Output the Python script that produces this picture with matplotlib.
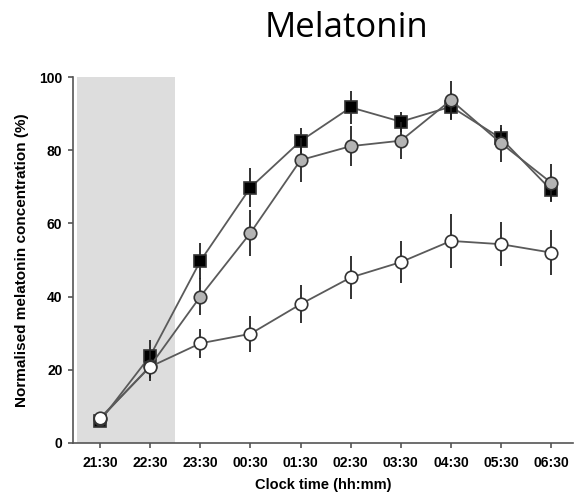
import matplotlib.pyplot as plt

# Clock times (hourly samples)
times = ['21:30', '22:30', '23:30', '00:30', '01:30',
         '02:30', '03:30', '04:30', '05:30', '06:30']

# Normalised melatonin concentration (%)
black_mean = [6.0, 23.8, 49.7, 69.8, 82.5, 91.7, 87.8, 91.9, 83.2, 69.1]
black_err = [1.0, 4.2, 5.0, 5.3, 3.5, 4.5, 2.7, 3.6, 3.0, 3.2]

grey_mean = [6.5, 21.0, 40.0, 57.4, 77.3, 81.1, 82.6, 93.7, 81.9, 71.1]
grey_err = [1.0, 4.0, 5.0, 6.3, 5.9, 5.5, 5.0, 5.3, 5.0, 5.1]

white_mean = [6.8, 20.8, 27.2, 29.8, 37.9, 45.2, 49.4, 55.2, 54.3, 52.0]
white_err = [1.0, 3.0, 3.9, 5.0, 5.2, 6.0, 5.7, 7.4, 6.0, 6.1]

# shaded span (in x index units)
shade_span = (-0.46, 1.5)

fig = plt.figure(figsize=(5.75, 4.97), dpi=100)
ax = fig.add_axes([0.127, 0.109, 0.87, 0.736])

x = list(range(len(times)))
ax.axvspan(shade_span[0], shade_span[1], ymin=0, ymax=1, color='#dddddd', lw=0, zorder=0)

series = [
    (black_mean, black_err, 's', 'black', 8.0),
    (grey_mean, grey_err, 'o', '#b4b4b4', 9.0),
    (white_mean, white_err, 'o', 'white', 9.0),
]
z = 2
for mean, err, marker, fc, ms in series:
    ax.errorbar(x, mean, yerr=err, fmt='none', ecolor='#222222', elinewidth=1.3,
                capsize=0, zorder=z)
    ax.plot(x, mean, '-', color='#5a5a5a', lw=1.3, zorder=z + 0.5)
    ax.plot(x, mean, linestyle='none', marker=marker, ms=ms, mfc=fc,
            mec='#333333', mew=1.2, zorder=z + 1)
    z += 2

ax.set_xlim(-0.54, 9.44)
ax.set_ylim(0, 100)
ax.set_xticks(x)
ax.set_xticklabels(times)
ax.set_yticks([0, 20, 40, 60, 80, 100])

for side in ['top', 'right']:
    ax.spines[side].set_visible(False)
for side in ['left', 'bottom']:
    ax.spines[side].set_color('#555555')
    ax.spines[side].set_linewidth(1.2)

ax.tick_params(direction='out', length=3.6, width=1.2, color='#555555')
ax.tick_params(axis='y', pad=4)
ax.tick_params(axis='x', pad=6)
for lab in ax.get_xticklabels() + ax.get_yticklabels():
    lab.set_fontfamily('Liberation Sans')
    lab.set_fontweight('bold')
    lab.set_fontsize(10)

ax.set_xlabel('Clock time (hh:mm)', fontfamily='Liberation Sans', fontweight='bold',
              fontsize=10.5, labelpad=6)
ax.set_ylabel('Normalised melatonin concentration (%)', fontfamily='Liberation Sans',
              fontweight='bold', fontsize=11, labelpad=7)

fig.text(0.602, 0.926, 'Melatonin', ha='center', va='baseline', fontsize=25,
         fontfamily='Open Sans')

fig.savefig('out.png', dpi=100)
